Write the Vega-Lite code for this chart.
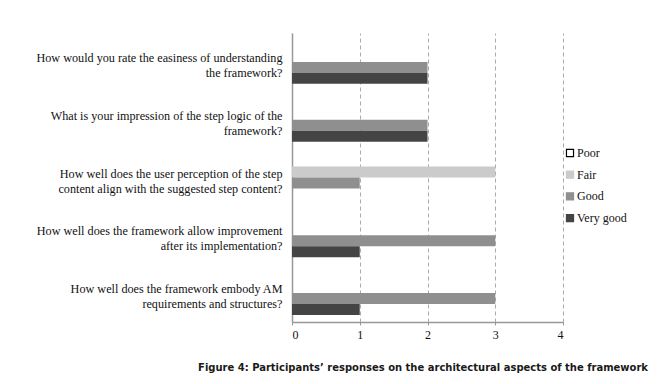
{
  "$schema": "https://vega.github.io/schema/vega-lite/v6.json",
  "autosize": {"type": "none"},
  "padding": {"left": 292, "top": 33, "right": 98, "bottom": 62},
  "width": 271,
  "height": 289,
  "background": "white",
  "title": {
    "text": "Figure 4: Participants’ responses on the architectural aspects of the framework",
    "orient": "bottom",
    "anchor": "end",
    "frame": "group",
    "font": "DejaVu Sans Condensed",
    "fontSize": 11.1,
    "fontWeight": "bold",
    "color": "#1a1a1a",
    "offset": 22,
    "dx": 85
  },
  "data": {
    "values": [
      {"question": "How would you rate the easiness of understanding\nthe framework?", "rating": "Good", "count": 2},
      {"question": "How would you rate the easiness of understanding\nthe framework?", "rating": "Very good", "count": 2},
      {"question": "What is your impression of the step logic of the\nframework?", "rating": "Good", "count": 2},
      {"question": "What is your impression of the step logic of the\nframework?", "rating": "Very good", "count": 2},
      {"question": "How well does the user perception of the step\ncontent align with the suggested step content?", "rating": "Fair", "count": 3},
      {"question": "How well does the user perception of the step\ncontent align with the suggested step content?", "rating": "Good", "count": 1},
      {"question": "How well does the framework allow improvement\nafter its implementation?", "rating": "Good", "count": 3},
      {"question": "How well does the framework allow improvement\nafter its implementation?", "rating": "Very good", "count": 1},
      {"question": "How well does the framework embody AM\nrequirements and structures?", "rating": "Good", "count": 3},
      {"question": "How well does the framework embody AM\nrequirements and structures?", "rating": "Very good", "count": 1}
    ]
  },
  "mark": {"type": "bar", "strokeWidth": 0},
  "encoding": {
    "y": {
      "field": "question",
      "type": "nominal",
      "sort": null,
      "scale": {"paddingInner": 0.24, "paddingOuter": 0.12},
      "axis": {
        "title": null,
        "ticks": false,
        "domainColor": "#999999",
        "domainWidth": 1.5,
        "labelExpr": "split(datum.label, '\\n')",
        "labelFont": "Liberation Serif",
        "labelFontSize": 12.2,
        "labelColor": "#111111",
        "labelLineHeight": 15,
        "labelPadding": 10,
        "labelOffset": -4,
        "labelLimit": 400
      }
    },
    "yOffset": {
      "field": "rating",
      "type": "nominal",
      "scale": {"domain": ["Poor", "Fair", "Good", "Very good"], "paddingInner": 0, "paddingOuter": 0}
    },
    "x": {
      "field": "count",
      "type": "quantitative",
      "scale": {"domain": [0, 4]},
      "axis": {
        "title": null,
        "values": [0, 1, 2, 3, 4],
        "format": "d",
        "grid": true,
        "gridDash": [4, 3],
        "gridColor": "#aaaaaa",
        "gridWidth": 1,
        "domainColor": "#999999",
        "domainWidth": 1.5,
        "tickColor": "#999999",
        "tickSize": 3,
        "labelFont": "Liberation Serif",
        "labelFontSize": 12,
        "labelColor": "#111111",
        "labelPadding": 4
      }
    },
    "fill": {
      "field": "rating",
      "type": "nominal",
      "scale": {"domain": ["Poor", "Fair", "Good", "Very good"], "range": ["#ffffff", "#cbcbcb", "#8f8f8f", "#444444"]},
      "legend": {
        "title": null,
        "orient": "none",
        "legendX": 272,
        "legendY": 114,
        "symbolType": "square",
        "symbolSize": 50,
        "symbolStrokeWidth": 1.2,
        "labelFont": "Liberation Serif",
        "labelFontSize": 12,
        "labelColor": "#111111",
        "labelOffset": 1,
        "rowPadding": 9.7
      }
    },
    "stroke": {
      "field": "rating",
      "type": "nominal",
      "scale": {"domain": ["Poor", "Fair", "Good", "Very good"], "range": ["#000000", "#cbcbcb", "#8f8f8f", "#444444"]},
      "legend": null
    }
  },
  "config": {"view": {"stroke": null}}
}
